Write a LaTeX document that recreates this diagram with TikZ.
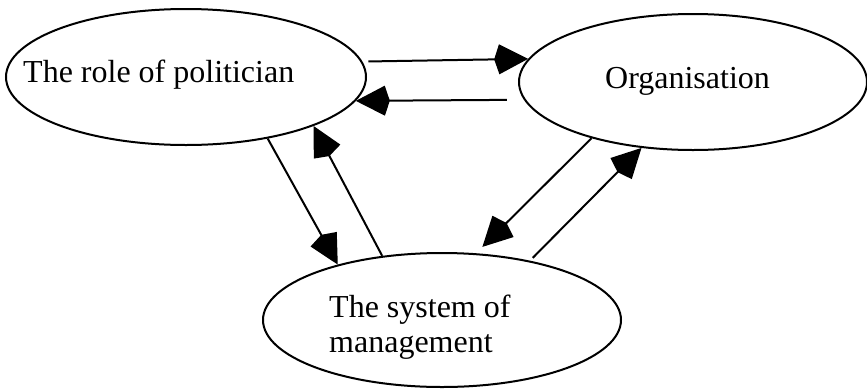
\documentclass[tikz,border=0pt]{standalone}
\usepackage{fontspec}
\setmainfont{Liberation Serif}
\usetikzlibrary{shapes.geometric,arrows.meta}
\tikzset{
  blob/.style={draw, ellipse, line width=2pt, inner sep=0pt},
  txt/.style={inner sep=0pt, font=\fontsize{32}{35}\selectfont},
  link/.style={line width=2pt, -{Kite[length=34pt,width=30pt,inset=5pt]}}
}
\begin{document}
\begin{tikzpicture}[x=1pt,y=-1pt]
  \useasboundingbox (0,0) rectangle (867,389);
  \node[blob, minimum width=360pt, minimum height=136pt] (pol) at (186,77) {};
  \node[blob, minimum width=348pt, minimum height=136pt] (org) at (693,82) {};
  \node[blob, minimum width=358pt, minimum height=134pt] (man) at (442,320) {};
  \node[txt, anchor=base west] (poltext) at (23,82) {The role of politician};
  \node[txt, anchor=base west] (orgtext) at (605,88) {Organisation};
  \node[txt, anchor=base west, align=left] (mantext) at (329,352) {The system of\\management};
  \draw[link, shorten <=6pt] (pol.5.9) -- (org.172);
  \draw[link, shorten <=17pt] (org.186.5) -- (pol.-8);
  \draw[link] (pol.-37.7) -- (man.152.6);
  \draw[link] (man.133.1) -- (pol.-21.25);
  \draw[link, shorten >=9pt] (org.209.7) -- (man.63);
  \draw[link, shorten <=4pt] (man.34.5) -- (org.232.7);
\end{tikzpicture}
\end{document}
